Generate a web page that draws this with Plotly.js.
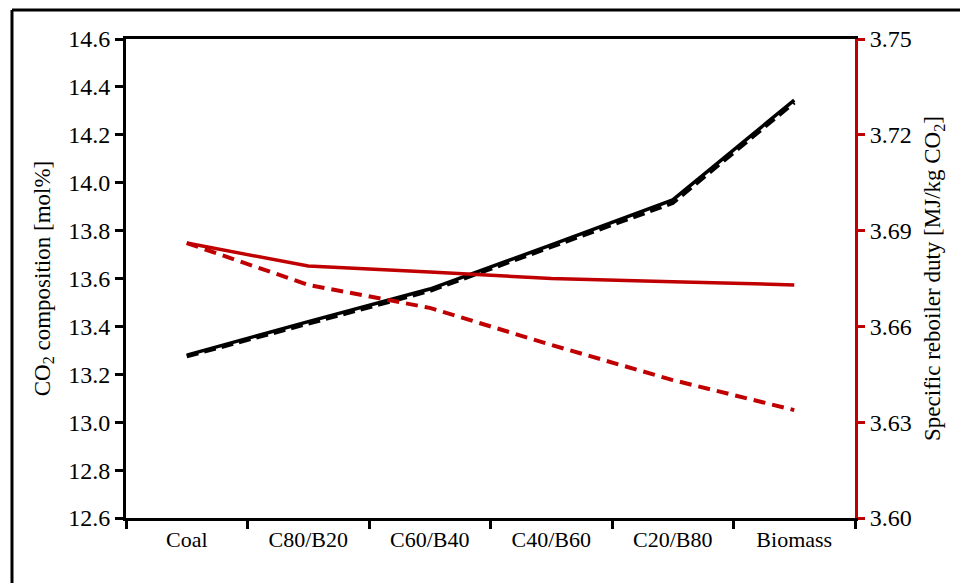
<!DOCTYPE html>
<html>
<head>
<meta charset="utf-8">
<script src="https://cdn.plot.ly/plotly-3.0.1.min.js"></script>
<style>
html,body{margin:0;padding:0;background:#fff;}
#chart{width:960px;height:583px;}
.modebar-container{display:none !important;}
#chart text{font-family:"Liberation Serif", "Times New Roman", serif !important;}
</style>
</head>
<body>
<div id="chart"></div>
<script>
const categories = ["Coal", "C80/B20", "C60/B40", "C40/B60", "C20/B80", "Biomass"];
const co2Solid = [13.28, 13.42, 13.556, 13.74, 13.928, 14.345];
const co2Dashed = [13.275, 13.41, 13.548, 13.732, 13.915, 14.335];
const dutySolid = [3.6861, 3.6789, 3.6770, 3.6750, 3.6740, 3.6730];
const dutyDashed = [3.6861, 3.6730, 3.6658, 3.6542, 3.6432, 3.6338];
const leftTicks = [12.6, 12.8, 13.0, 13.2, 13.4, 13.6, 13.8, 14.0, 14.2, 14.4, 14.6];
const rightTicks = [3.60, 3.63, 3.66, 3.69, 3.72, 3.75];

const fontFam = "Liberation Serif";
const red = "#c00000";

const traces = [
  {x: categories, y: co2Dashed, type: "scatter", mode: "lines", yaxis: "y",
   line: {color: "#000", width: 4, dash: "12px,6px"}},
  {x: categories, y: co2Solid, type: "scatter", mode: "lines", yaxis: "y",
   line: {color: "#000", width: 3.5}},
  {x: categories, y: dutySolid, type: "scatter", mode: "lines", yaxis: "y2",
   line: {color: red, width: 3.5}},
  {x: categories, y: dutyDashed, type: "scatter", mode: "lines", yaxis: "y2",
   line: {color: red, width: 4, dash: "12px,7px"}}
];

const layout = {
  width: 960, height: 583,
  margin: {l: 126, r: 105, t: 39, b: 65},
  paper_bgcolor: "#fff", plot_bgcolor: "#fff",
  showlegend: false,
  font: {family: fontFam, size: 23, color: "#000"},
  xaxis: {
    type: "category", range: [-0.5, 5.5],
    tickson: "boundaries", ticks: "outside", ticklen: 8, tickwidth: 2.5, tickcolor: "#000",
    showline: true, linecolor: "#000", linewidth: 3, mirror: true,
    showgrid: false, zeroline: false,
    tickfont: {family: fontFam, size: 22}
  },
  yaxis: {
    range: [12.6, 14.6], tickvals: leftTicks, ticktext: leftTicks.map(v => v.toFixed(1)),
    ticks: "outside", ticklen: 8, tickwidth: 2.5, tickcolor: "#000",
    showline: true, linecolor: "#000", linewidth: 3,
    showgrid: false, zeroline: false,
    tickfont: {family: fontFam, size: 24},
    title: {text: "CO<sub>2</sub> composition [mol%]", font: {family: fontFam, size: 23}, standoff: 12}
  },
  yaxis2: {
    overlaying: "y", side: "right",
    range: [3.60, 3.75], tickvals: rightTicks, ticktext: rightTicks.map(v => v.toFixed(2)),
    ticks: "outside", ticklen: 7, tickwidth: 2.5, tickcolor: red,
    showline: true, linecolor: red, linewidth: 3,
    showgrid: false, zeroline: false,
    tickfont: {family: fontFam, size: 24},
    title: {text: "Specific reboiler duty [MJ/kg CO<sub>2</sub>]", font: {family: fontFam, size: 23}, standoff: 14}
  },
  shapes: [
    {type: "line", xref: "paper", yref: "paper", x0: -0.1564, x1: 1.2, y0: 1.0605, y1: 1.0605,
     line: {color: "#000", width: 3}},
    {type: "line", xref: "paper", yref: "paper", x0: -0.1564, x1: -0.1564, y0: 1.0605, y1: -0.2,
     line: {color: "#000", width: 3}}
  ]
};

Plotly.newPlot("chart", traces, layout);
</script>
</body>
</html>
